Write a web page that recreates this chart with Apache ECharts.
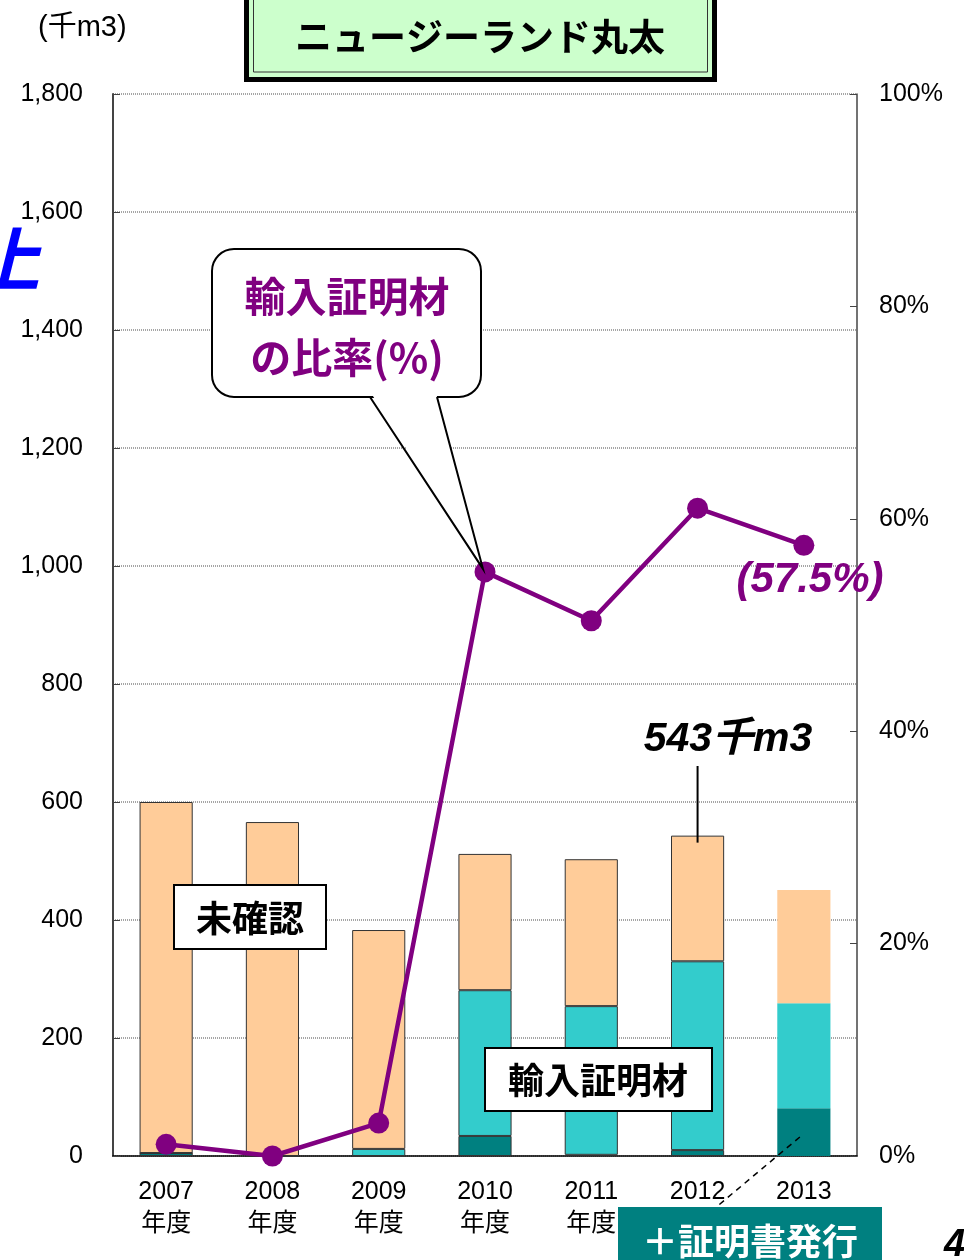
<!DOCTYPE html>
<html>
<head>
<meta charset="utf-8">
<script src="https://cdn.jsdelivr.net/npm/echarts@6/dist/echarts.min.js"></script>
<style>
html,body{margin:0;padding:0;background:#fff;}
#main{width:964px;height:1260px;}
</style>
</head>
<body>
<div id="main"></div>
<script>
const categories = ['2007', '2008', '2009', '2010', '2011', '2012', '2013'];
const categorySuffix = '年度';
const certified = [5, 0, 0, 34, 2, 10, 81];          // 証明書発行 (dark teal)
const importProof = [0, 0, 12, 247, 252, 320, 178];  // 輸入証明材 (cyan)
const unconfirmed = [595, 566, 371, 231, 249, 213, 192]; // 未確認 (peach)
const ratio = [1.1, 0, 3.1, 55.0, 50.4, 61.0, 57.5]; // 輸入証明材の比率 (%)
const leftAxis = { min: 0, max: 1800, interval: 200 };
const rightAxis = { min: 0, max: 100, interval: 20 };

const FONT = "'Liberation Sans', Arial, 'Noto Sans CJK JP', sans-serif";
const CJK = "'Noto Sans CJK JP', 'Liberation Sans', sans-serif";

function withBorder(arr) {
  return arr.map((v, i) => i === arr.length - 1 ? { value: v, itemStyle: { borderWidth: 0 } } : v);
}

const chart = echarts.init(document.getElementById('main'), null, { renderer: 'canvas' });

const option = {
  backgroundColor: '#ffffff',
  animation: false,
  textStyle: { fontFamily: FONT },
  grid: { left: 113, right: 107, top: 94, bottom: 104, containLabel: false },
  xAxis: {
    type: 'category',
    data: categories,
    axisLine: { lineStyle: { color: '#000', width: 1.5 } },
    axisTick: { inside: true, length: 8, lineStyle: { color: '#000' } },
    axisLabel: {
      color: '#000', fontSize: 25, lineHeight: 32, margin: 20, fontFamily: FONT,
      formatter: v => v + '\n' + categorySuffix
    }
  },
  yAxis: [
    {
      type: 'value', min: leftAxis.min, max: leftAxis.max, interval: leftAxis.interval,
      axisLine: { show: true, lineStyle: { color: '#444', width: 2 } },
      axisTick: { show: true, inside: true, length: 7, lineStyle: { color: '#444' } },
      splitLine: { show: true, lineStyle: { color: '#888', type: [1, 1], width: 1.5 } },
      axisLabel: {
        color: '#000', fontSize: 25, margin: 30, fontFamily: FONT,
        formatter: v => String(v).replace(/\B(?=(\d{3})+(?!\d))/g, ',')
      }
    },
    {
      type: 'value', min: rightAxis.min, max: rightAxis.max, interval: rightAxis.interval,
      position: 'right',
      axisLine: { show: true, lineStyle: { color: '#444', width: 1.5 } },
      axisTick: { show: true, inside: true, length: 7, lineStyle: { color: '#444' } },
      splitLine: { show: false },
      axisLabel: { color: '#000', fontSize: 25, margin: 22, fontFamily: FONT, formatter: '{value}%' }
    }
  ],
  series: [
    {
      name: '証明書発行', type: 'bar', stack: 'total', barWidth: '50%',
      data: withBorder(certified),
      itemStyle: { color: '#008080', borderColor: '#333', borderWidth: 1 }
    },
    {
      name: '輸入証明材', type: 'bar', stack: 'total', barWidth: '50%',
      data: withBorder(importProof),
      itemStyle: { color: '#33CCCC', borderColor: '#333', borderWidth: 1 }
    },
    {
      name: '未確認', type: 'bar', stack: 'total', barWidth: '50%',
      data: withBorder(unconfirmed),
      itemStyle: { color: '#FFCC99', borderColor: '#333', borderWidth: 1 }
    },
    {
      name: '比率', type: 'line', yAxisIndex: 1, data: ratio, z: 10,
      symbol: 'circle', symbolSize: 21,
      lineStyle: { color: '#800080', width: 4.5 },
      itemStyle: { color: '#800080' }
    }
  ]
};

chart.setOption(option);

// annotation anchors from the library's scales
const tip = chart.convertToPixel({ seriesIndex: 3 }, [3, ratio[3]]);
const top2012 = chart.convertToPixel({ xAxisIndex: 0, yAxisIndex: 0 }, [5, certified[5] + importProof[5] + unconfirmed[5]]);
const dark2013 = chart.convertToPixel({ xAxisIndex: 0, yAxisIndex: 0 }, [6, certified[6] * 0.5]);

const graphics = [
  // partial blue glyph at left edge
  { type: 'text', left: -30, top: 224, z: 20,
    style: { text: '上', fill: '#0000ff', font: "italic bold 70px 'Noto Sans CJK JP', sans-serif" } },
  // unit
  { type: 'text', x: 38, y: 28, z: 20,
    style: { text: '(千m3)', fill: '#000', font: "29px " + FONT, align: 'left', verticalAlign: 'middle' } },
  // title box
  { type: 'rect', z: 20, shape: { x: 246.5, y: -10, width: 468, height: 89.5 },
    style: { fill: '#ccffcc', stroke: '#000', lineWidth: 5 } },
  { type: 'rect', z: 21, shape: { x: 253.5, y: -10, width: 454, height: 82 },
    style: { fill: 'none', stroke: '#333', lineWidth: 1 } },
  { type: 'text', x: 480, y: 37, z: 22,
    style: { text: 'ニュージーランド丸太', fill: '#000', font: "bold 37px " + CJK, align: 'center', verticalAlign: 'middle' } },
  // callout box with tail
  { type: 'rect', z: 30, shape: { x: 212, y: 249, width: 269, height: 148, r: 22 },
    style: { fill: '#fff', stroke: '#000', lineWidth: 2 } },
  { type: 'polygon', z: 31, shape: { points: [[371, 393], [tip[0] - 2, tip[1] - 4], [436, 393]] },
    style: { fill: '#fff', stroke: 'none' } },
  { type: 'polyline', z: 32, shape: { points: [[370, 397], [tip[0] - 2, tip[1] - 3], [437, 397]] },
    style: { stroke: '#000', lineWidth: 2, fill: 'none' } },
  { type: 'text', x: 347, y: 296, z: 33,
    style: { text: '輸入証明材', fill: '#800080', font: "bold 41px " + CJK, align: 'center', verticalAlign: 'middle' } },
  { type: 'text', x: 347, y: 357, z: 33,
    style: { text: 'の比率(%)', fill: '#800080', font: "bold 41px " + CJK, align: 'center', verticalAlign: 'middle' } },
  // 57.5% label
  { type: 'text', x: 810, y: 580, z: 33,
    style: { text: '(57.5%)', fill: '#800080', font: "italic bold 42px " + FONT, align: 'center', verticalAlign: 'middle' } },
  // 543 label and leader
  { type: 'text', x: 728, y: 740, z: 33,
    style: { text: '543千m3', fill: '#000', font: "italic bold 41px " + FONT, align: 'center', verticalAlign: 'middle' } },
  { type: 'line', z: 33, shape: { x1: top2012[0], y1: 766, x2: top2012[0], y2: top2012[1] + 7 },
    style: { stroke: '#000', lineWidth: 2 } },
  // 未確認 box
  { type: 'rect', z: 30, shape: { x: 174, y: 885, width: 152, height: 64 },
    style: { fill: '#fff', stroke: '#000', lineWidth: 2 } },
  { type: 'text', x: 250, y: 918, z: 31,
    style: { text: '未確認', fill: '#000', font: "bold 36px " + CJK, align: 'center', verticalAlign: 'middle' } },
  // 輸入証明材 box
  { type: 'rect', z: 30, shape: { x: 485, y: 1048, width: 227, height: 63 },
    style: { fill: '#fff', stroke: '#000', lineWidth: 2 } },
  { type: 'text', x: 598, y: 1080, z: 31,
    style: { text: '輸入証明材', fill: '#000', font: "bold 36px " + CJK, align: 'center', verticalAlign: 'middle' } },
  // dashed leader to certified segment
  { type: 'line', z: 33, shape: { x1: dark2013[0] - 4, y1: 1137, x2: 708, y2: 1214 },
    style: { stroke: '#000', lineWidth: 1.5, lineDash: [6, 5] } },
  // teal box
  { type: 'rect', z: 34, shape: { x: 618, y: 1207, width: 264, height: 60 },
    style: { fill: '#008080', stroke: 'none' } },
  { type: 'text', x: 750, y: 1241, z: 35,
    style: { text: '＋証明書発行', fill: '#fff', font: "bold 36px " + CJK, align: 'center', verticalAlign: 'middle' } },
  // page number fragment
  { type: 'text', x: 944, y: 1246, z: 35,
    style: { text: '4', fill: '#000', font: "italic bold 38px " + FONT, align: 'left', verticalAlign: 'middle' } }
];

chart.setOption({ graphic: graphics });
</script>
</body>
</html>
